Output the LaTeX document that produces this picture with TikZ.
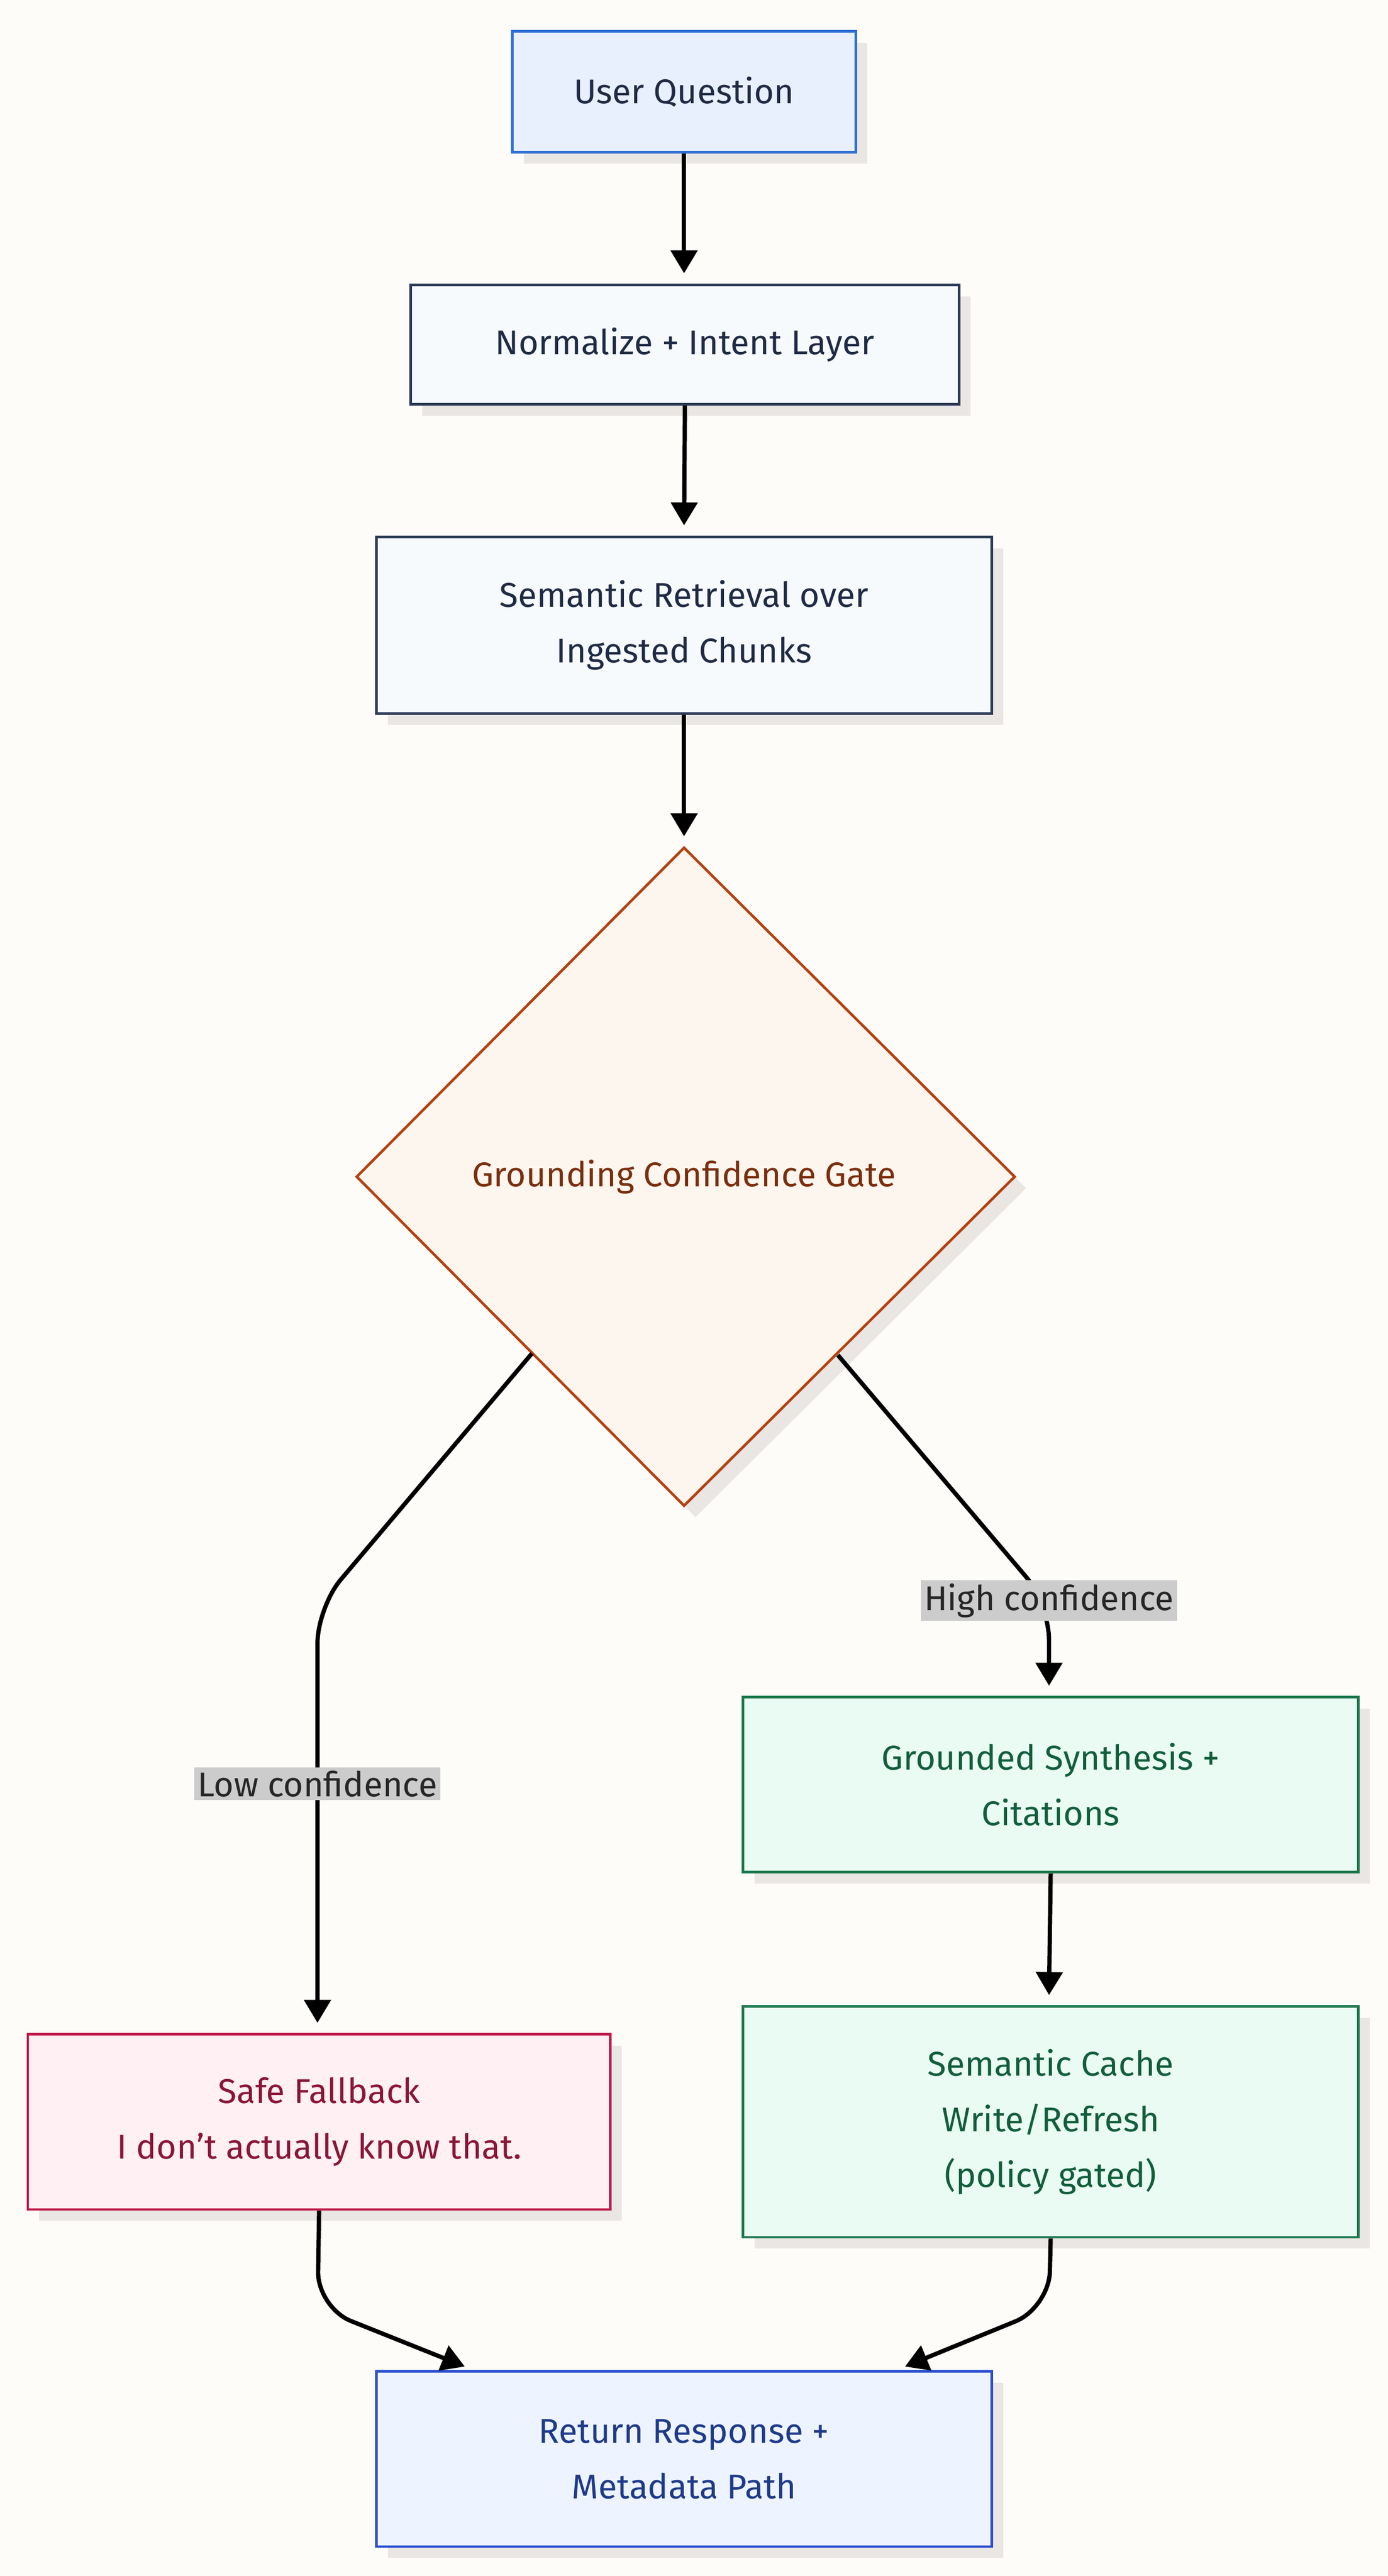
\documentclass[tikz,border=0pt]{standalone}
\usepackage{fontspec}
\setmainfont{Fira Sans}
\usetikzlibrary{arrows.meta,shapes.geometric}
\definecolor{bg}{HTML}{FEFCF9}
\definecolor{shd}{HTML}{EAE6E3}
\definecolor{uqf}{HTML}{E8F0FE}\definecolor{uqd}{HTML}{2F6FD6}\definecolor{ink}{HTML}{1F2A44}
\definecolor{nf}{HTML}{F7FAFD}\definecolor{nd}{HTML}{2B3A55}
\definecolor{gf}{HTML}{FDF6EE}\definecolor{gd}{HTML}{B5400F}\definecolor{gt}{HTML}{7A2E0E}
\definecolor{sf}{HTML}{EAFBF3}\definecolor{sd}{HTML}{1E7A50}\definecolor{st}{HTML}{115E3B}
\definecolor{ff}{HTML}{FFF0F3}\definecolor{fd}{HTML}{C0194A}\definecolor{ft}{HTML}{8A1538}
\definecolor{rf}{HTML}{EEF4FF}\definecolor{rd}{HTML}{2A4FD0}\definecolor{rt}{HTML}{1E3A8A}
\begin{document}
\begin{tikzpicture}[x=1pt,y=-1pt,
 box/.style={draw,line width=1.6pt,align=center,font=\fontsize{21}{34}\selectfont,
   minimum width=#1,inner sep=0pt},
 arr/.style={line width=2.6pt,-{Triangle[length=14pt,width=16pt]},rounded corners=22pt},
 lbl/.style={fill=black!20,font=\fontsize{21}{26}\selectfont,inner sep=2pt,text=black!85}]
\fill[bg] (0,0) rectangle (848,1574);
\useasboundingbox (0,0) rectangle (848,1574);
% shadows
\fill[shd] (320,26) rectangle (530,100);
\fill[shd] (258,181) rectangle (593,254);
\fill[shd] (237,335) rectangle (613,443);
\fill[shd] (425,525) -- (627,726) -- (425,927) -- (225,726) -- cycle;
\fill[shd] (461,1044) rectangle (837,1151);
\fill[shd] (461,1233) rectangle (837,1374);
\fill[shd] (24,1250) rectangle (380,1357);
\fill[shd] (237,1456) rectangle (613,1563);
% nodes
\node[box=210pt,minimum height=74pt,fill=uqf,draw=uqd,text=ink] at (418,56) (uq) {User Question};
\node[box=335pt,minimum height=73pt,fill=nf,draw=nd,text=ink] at (418.5,210.5) (norm) {Normalize + Intent Layer};
\node[box=376pt,minimum height=108pt,fill=nf,draw=nd,text=ink] at (418,382) (ret) {Semantic Retrieval over\\Ingested Chunks};
\path[fill=gf,draw=gd,line width=1.6pt] (418,518) coordinate (dt) -- (620,719) coordinate (dr) -- (418,920) coordinate (db) -- (218,719) coordinate (dl) -- cycle;
\node[font=\fontsize{21}{26}\selectfont,text=gt] at (418,719) (gate) {Grounding Confidence Gate};
\node[box=376pt,minimum height=107pt,fill=sf,draw=sd,text=st] at (642,1090.5) (syn) {Grounded Synthesis +\\Citations};
\node[box=376pt,minimum height=141pt,fill=sf,draw=sd,text=st] at (642,1296.5) (cache) {Semantic Cache\\Write/Refresh\\(policy gated)};
\node[box=356pt,minimum height=107pt,fill=ff,draw=fd,text=ft] at (195,1296.5) (fb) {Safe Fallback\\I don't actually know that.};
\node[box=376pt,minimum height=107pt,fill=rf,draw=rd,text=rt] at (418,1502.5) (resp) {Return Response +\\Metadata Path};
% edges
\draw[arr] (uq.south) -- (418,167);
\draw[arr] (norm.south) -- (418,321);
\draw[arr] (ret.south) -- (418,511);
\coordinate (lo) at (325,827);
\coordinate (hi) at (512,828);
\draw[arr] (lo) -- (194,982) -- (194,1236);
\node[lbl] at (194,1090) (lowl) {Low confidence};
\draw[arr] (hi) -- (641,980) -- (641,1030);
\node[lbl] at (641,978) (highl) {High confidence};
\draw[arr] (syn.south) -- (641,1219);
\draw[arr] (fb.south) -- (194,1410) -- (284,1446);
\draw[arr] (cache.south) -- (641,1410) -- (553,1446);
\end{tikzpicture}
\end{document}
